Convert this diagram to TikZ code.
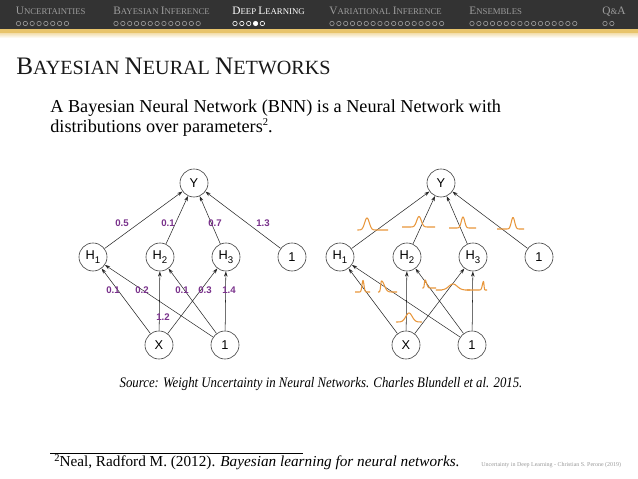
\documentclass[tikz,border=0pt]{standalone}
\usepackage{fontspec}
\usepackage{graphicx}
\setmainfont{Liberation Serif}
\setsansfont{Liberation Sans}
\usetikzlibrary{arrows.meta}
\definecolor{hdr}{HTML}{333333}
\definecolor{gold}{HTML}{E8C46C}
\definecolor{hgray}{HTML}{9C9C9C}
\definecolor{wcol}{RGB}{122,50,140}
\definecolor{gcol}{RGB}{232,150,58}
\newcommand\Cp[1]{\scalebox{1.3}{#1}}
\newcommand\Tc[1]{\scalebox{1.25}{#1}}
\newcommand\supr[1]{\raisebox{0.85ex}{\fontsize{6}{6}\selectfont #1}}
\newcommand\dotrow[3]{\foreach \i in {1,...,#2}{\draw[#3] ({#1+6.85*(\i-1)},23.5) circle[radius=2.2];}}
\newcommand\gcurve[7]{%
  \pgfmathsetmacro\ga{#3-2.8*#6}%
  \pgfmathsetmacro\gb{#3+2.8*#7}%
  \draw[gline] (#1,#4) -- plot[domain=\ga:#3,samples=20,smooth] (\x,{#4-#5*exp(-((\x-#3)/#6)^2)})
     -- plot[domain=#3:\gb,samples=20,smooth] (\x,{#4-#5*exp(-((\x-#3)/#7)^2)}) -- (#2,#4);}
\newcommand\network[2]{%
  \begin{scope}[shift={(#2,0)}]
  \node[neur] (#1Y) at (194,183) {Y};
  \node[neur] (#1H1) at (93,257) {H\raisebox{-0.55ex}{\fontsize{5.5}{5}\selectfont 1}};
  \node[neur] (#1H2) at (160,257) {H\raisebox{-0.55ex}{\fontsize{5.5}{5}\selectfont 2}};
  \node[neur] (#1H3) at (226,257) {H\raisebox{-0.55ex}{\fontsize{5.5}{5}\selectfont 3}};
  \node[neur] (#1B1) at (292,257) {1};
  \node[neur] (#1X) at (159,345) {X};
  \node[neur] (#1B2) at (225,345) {1};
  \end{scope}
  \foreach \s in {H1,H2,H3,B1} \draw[edge] (#1\s) -- (#1Y);
  \foreach \s in {X,B2} \foreach \t in {H1,H2,H3} \draw[edge] (#1\s) -- (#1\t);
}
\begin{document}
\begin{tikzpicture}[x=0.5709pt,y=-0.5709pt,
  neur/.style={circle,draw=black!75,line width=0.35pt,minimum size=16pt,inner sep=0pt,
    font=\sffamily\fontsize{7.3}{8}\selectfont},
  edge/.style={draw=black!85,line width=0.3pt,-{Stealth[length=3pt,width=2pt]}},
  wlab/.style={text=wcol,font=\sffamily\bfseries\fontsize{5.5}{6}\selectfont,inner sep=0pt},
  gline/.style={draw=gcol,line width=0.6pt,line join=round},
  htxt/.style={anchor=base west,inner sep=0pt,text=hgray,font=\fontsize{5}{6}\selectfont},
  hdot/.style={draw=hgray,line width=0.35pt}]
\useasboundingbox (0,0) rectangle (638,479);
\fill[white] (0,0) rectangle (638,479);
% header
\fill[hdr] (0,0) rectangle (638,29.5);
\fill[gold] (0,29.5) rectangle (638,34);
\shade[top color=gold!45,bottom color=white] (0,34) rectangle (638,38);
\node[htxt] (s1) at (15.5,15) {\Cp{U}NCERTAINTIES};
\node[htxt] (s2) at (113,15) {\Cp{B}AYESIAN \Cp{I}NFERENCE};
\node[htxt,text=white] (s3) at (232,15) {\Cp{D}EEP \Cp{L}EARNING};
\node[htxt] (s4) at (329,15) {\Cp{V}ARIATIONAL \Cp{I}NFERENCE};
\node[htxt] (s5) at (469,15) {\Cp{E}NSEMBLES};
\node[htxt] (s6) at (602,15) {\Cp{Q}\&\Cp{A}};
\dotrow{18.5}{8}{hdot}
\dotrow{116}{13}{hdot}
\dotrow{235}{5}{draw=white,line width=0.35pt}
\fill[white] ({235+3*6.85},23.5) circle[radius=2.2];
\dotrow{332}{17}{hdot}
\dotrow{472}{16}{hdot}
\dotrow{605}{2}{hdot}
% title and text
\node[anchor=base west,inner sep=0pt,text=black!90,font=\fontsize{11.5}{12}\selectfont] (title) at (16,75)
  {\Tc{B}AYESIAN \Tc{N}EURAL \Tc{N}ETWORKS};
\node[anchor=base west,inner sep=0pt,font=\fontsize{10.4}{13}\selectfont] (l1) at (50,113)
  {A Bayesian Neural Network (BNN) is a Neural Network with};
\node[anchor=base west,inner sep=0pt,font=\fontsize{10.4}{13}\selectfont] (l2) at (50,133)
  {distributions over parameters\supr{2}.};
% networks
\network{L}{0}
\network{R}{247}
% weights
\node[wlab] (w1) at (122,223) {0.5};
\node[wlab] (w2) at (168,223) {0.1};
\node[wlab] (w3) at (215,223) {0.7};
\node[wlab] (w4) at (263,223) {1.3};
\node[wlab] (w5) at (113,290) {0.1};
\node[wlab] (w6) at (142,290) {0.2};
\node[wlab] (w7) at (182,290) {0.1};
\node[wlab] (w8) at (205,290) {0.3};
\node[wlab] (w9) at (229,290) {1.4};
\node[wlab] (w10) at (163,317) {1.2};
% distributions
\gcurve{358}{388}{367}{230}{12}{3.3}{3.3}
\gcurve{402}{435}{419}{227}{10.5}{3.2}{3.2}
\gcurve{449}{476}{463}{228}{11}{2.4}{2.4}
\gcurve{497}{524}{513}{229}{11.5}{2.4}{2.4}
\gcurve{355}{370}{363}{292}{11.5}{1.4}{1.4}
\gcurve{378}{397}{381.5}{292}{11}{1.1}{4}
\gcurve{423}{436}{425}{288}{8}{0.8}{2.2}
\gcurve{442}{465}{453}{290}{6}{6}{6}
\gcurve{467}{487}{483.5}{290}{8.5}{1.6}{0.7}
\gcurve{398}{420}{409}{322}{9}{4.5}{4.5}
% caption
\node[anchor=base,inner sep=0pt,font=\itshape\fontsize{8.3}{10}\selectfont] (cap) at (321,388)
  {\scalebox{0.88}[1]{Source: Weight Uncertainty in Neural Networks. Charles Blundell et al. 2015.}};
% footnote
\coordinate (fr1) at (50,453);
\coordinate (fr2) at (303,453);
\draw[line width=0.5pt] (fr1) -- (fr2);
\node[anchor=base west,inner sep=0pt,font=\fontsize{8.7}{11}\selectfont] (fn) at (54,467)
  {\supr{2}Neal, Radford M. (2012). \textit{Bayesian learning for neural networks.}};
\node[anchor=base west,inner sep=0pt,text=black!40,font=\fontsize{3.4}{4}\selectfont] (foot) at (481,467)
  {Uncertainty in Deep Learning - Christian S. Perone (2019)};
\end{tikzpicture}
\end{document}
